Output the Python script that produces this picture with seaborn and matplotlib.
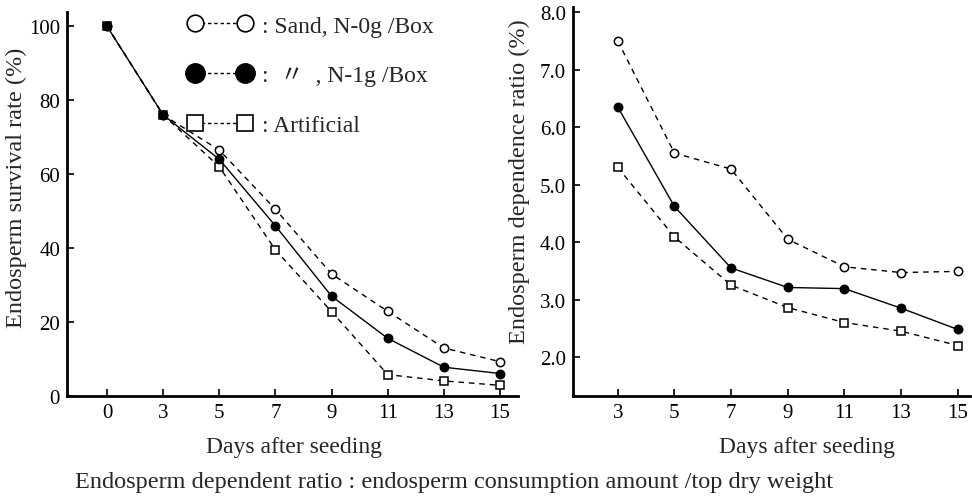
import matplotlib
matplotlib.use("Agg")
import matplotlib.pyplot as plt
from matplotlib.lines import Line2D
import seaborn as sns
import pandas as pd

# Data
days_left = [0, 3, 5, 7, 9, 11, 13, 15]
surv_sand_n0 = [100, 76, 66.5, 50.5, 33, 22.9, 13.0, 9.3]
surv_sand_n1 = [100, 76, 64, 46, 27, 15.6, 7.8, 6.1]
surv_artificial = [100, 76, 62, 39.5, 22.8, 5.8, 4.1, 2.9]

days_right = [3, 5, 7, 9, 11, 13, 15]
ratio_sand_n0 = [7.5, 5.55, 5.27, 4.05, 3.57, 3.47, 3.49]
ratio_sand_n1 = [6.35, 4.62, 3.55, 3.21, 3.19, 2.85, 2.48]
ratio_artificial = [5.3, 4.09, 3.25, 2.86, 2.6, 2.45, 2.2]

legend_labels = [": Sand, N-0g /Box", ":  \u3003  , N-1g /Box", ": Artificial"]

sns.set_theme(style="white")
plt.rcParams['font.family'] = ['Liberation Serif', 'Noto Sans CJK JP']

fig = plt.figure(figsize=(9.72, 5.02), dpi=100)
ax1 = fig.add_axes([0.069, 0.209, 0.464, 0.765])
ax2 = fig.add_axes([0.5895, 0.209, 0.408, 0.775])

dash = (0, (4, 3.5))
# (values, marker, facecolor, linestyle)
series_left = [
    (surv_artificial, 's', 'white', dash),
    (surv_sand_n0, 'o', 'white', dash),
    (surv_sand_n1, 'o', 'black', '-'),
]
series_right = [
    (ratio_artificial, 's', 'white', dash),
    (ratio_sand_n0, 'o', 'white', dash),
    (ratio_sand_n1, 'o', 'black', '-'),
]


def draw(ax, days, series):
    for vals, mk, fc, ls in series:
        df = pd.DataFrame({"pos": range(len(days)), "val": vals})
        sns.lineplot(data=df, x="pos", y="val", ax=ax, color="black",
                     linestyle=ls, linewidth=1.0, marker=mk, markersize=6,
                     markerfacecolor=fc, markeredgecolor="black",
                     markeredgewidth=1.1, errorbar=None)
    ax.set_xticks(range(len(days)))
    ax.set_xticklabels([str(d) for d in days])
    for side in ['top', 'right']:
        ax.spines[side].set_visible(False)
    for side in ['left', 'bottom']:
        ax.spines[side].set_linewidth(2.0)
        ax.spines[side].set_color('black')
    ax.tick_params(direction='in', length=5, width=1.2, labelsize=15,
                   colors='black', pad=5, left=True, bottom=True)
    ax.set_xlabel("Days after seeding", fontsize=17)


draw(ax1, days_left, series_left)
ax1.set_xlim(-0.71, 7.32)
ax1.set_ylim(0, 103.8)
ax1.set_yticks([0, 20, 40, 60, 80, 100])
ax1.set_ylabel("Endosperm survival rate (%)", fontsize=17.5)
ax1.yaxis.set_label_coords(-0.089, 0.544)
ax1.xaxis.set_label_coords(0.503, -0.104)

draw(ax2, days_right, series_right)
ax2.set_xlim(-0.79, 6.21)
ax2.set_ylim(1.32, 8.09)
ax2.set_yticks([2, 3, 4, 5, 6, 7, 8])
ax2.set_yticklabels([f"{v:.1f}" for v in [2, 3, 4, 5, 6, 7, 8]])
ax2.set_ylabel("Endosperm dependence ratio (%)", fontsize=17.5)
ax2.yaxis.set_label_coords(-0.108, 0.553)
ax2.xaxis.set_label_coords(0.59, -0.103)

# legend
leg_dash = (0, (2.5, 2))
handles = [
    Line2D([], [], color='black', linestyle=leg_dash, linewidth=1.0, marker='o',
           markersize=12, markerfacecolor='white', markeredgecolor='black', markeredgewidth=1.2),
    Line2D([], [], color='black', linestyle=leg_dash, linewidth=1.0, marker='o',
           markersize=14, markerfacecolor='black', markeredgecolor='black'),
    Line2D([], [], color='black', linestyle=leg_dash, linewidth=1.0, marker='s',
           markersize=12, markerfacecolor='white', markeredgecolor='black', markeredgewidth=1.2),
]
ax1.legend(handles, legend_labels, loc='upper left',
           bbox_to_anchor=(188 / 972, 1 - 16 / 502), bbox_transform=fig.transFigure,
           frameon=False, numpoints=2, handlelength=2.7, handletextpad=0.45,
           labelspacing=1.2, borderpad=0, borderaxespad=0, fontsize=17)

fig.text(75 / 972, 1 - 483 / 502,
         "Endosperm dependent ratio : endosperm consumption amount /top dry weight",
         fontsize=17.5, ha='left', va='center')

fig.savefig("out.png", dpi=100)
